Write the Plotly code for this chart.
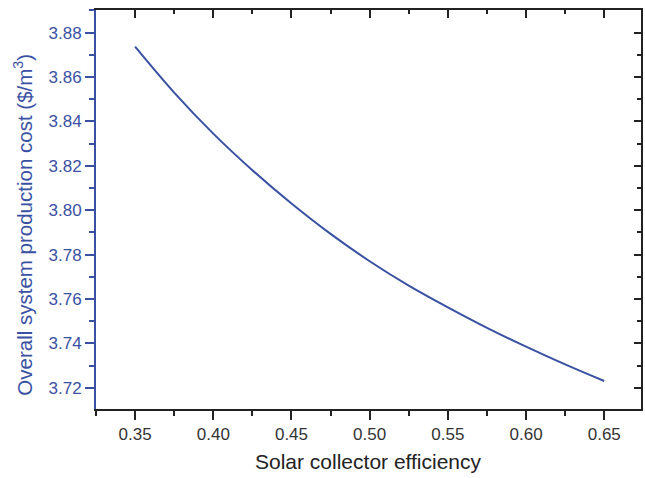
import plotly.graph_objects as go

efficiency = [0.35, 0.375, 0.40, 0.425, 0.45, 0.475, 0.50, 0.525, 0.55, 0.575, 0.60, 0.625, 0.65]
cost = [3.8737, 3.8530, 3.8345, 3.8180, 3.8030, 3.7893, 3.7770, 3.7660, 3.7562, 3.7470, 3.7385, 3.7305, 3.7230]

x_title = "Solar collector efficiency"
y_title = "Overall system production cost ($/m<sup>3</sup>)"

BLUE = "#3A51A3"
DARK = "#222222"
FONT = "Liberation Sans, Arial, sans-serif"
xr = [0.325, 0.6735]
yr = [3.7104, 3.8902]

fig = go.Figure()
fig.add_trace(go.Scatter(x=efficiency, y=cost, mode="lines", line=dict(color=BLUE, width=2, shape="spline"),
                         showlegend=False))
fig.add_trace(go.Scatter(x=efficiency, y=cost, mode="lines", line=dict(width=0), opacity=0,
                         xaxis="x2", yaxis="y2", showlegend=False, hoverinfo="skip"))

fig.update_layout(
    width=645, height=478,
    margin=dict(l=96, r=4, t=10, b=69),
    paper_bgcolor="white", plot_bgcolor="white",
    font=dict(family=FONT, size=16),
    xaxis=dict(range=xr, dtick=0.05, tick0=0.35, tickformat=".2f", showgrid=False, zeroline=False,
               automargin=False,
               showline=True, linecolor=DARK, linewidth=2,
               ticks="outside", ticklen=9, tickwidth=2, tickcolor=DARK,
               tickfont=dict(size=17, color="#333333"),
               minor=dict(dtick=0.025, ticks="outside", ticklen=5, tickwidth=1.5, tickcolor=DARK)),
    yaxis=dict(range=yr, dtick=0.02, tick0=3.72, tickformat=".2f", showgrid=False, zeroline=False,
               automargin=False,
               showline=True, linecolor=BLUE, linewidth=2,
               ticks="outside", ticklen=9, tickwidth=2, tickcolor=BLUE,
               tickfont=dict(size=17, color=BLUE),
               minor=dict(dtick=0.01, ticks="outside", ticklen=5, tickwidth=1.5, tickcolor=BLUE)),
    xaxis2=dict(overlaying="x", side="top", range=xr, dtick=0.05, tick0=0.35, showgrid=False, zeroline=False,
                automargin=False, showline=True, linecolor=DARK, linewidth=2, showticklabels=False,
                ticks="inside", ticklen=8, tickwidth=2, tickcolor=DARK,
                minor=dict(dtick=0.025, ticks="inside", ticklen=4, tickwidth=1.5, tickcolor=DARK)),
    yaxis2=dict(overlaying="y", side="right", range=yr, dtick=0.02, tick0=3.72, showgrid=False, zeroline=False,
                automargin=False, showline=True, linecolor=DARK, linewidth=2, showticklabels=False,
                ticks="inside", ticklen=7, tickwidth=2, tickcolor=DARK,
                minor=dict(dtick=0.01, ticks="inside", ticklen=4, tickwidth=1.5, tickcolor=DARK)),
)

fig.add_annotation(text=x_title, xref="paper", yref="paper", x=0.5, y=0, xanchor="center", yanchor="middle",
                   yshift=-52, showarrow=False, font=dict(size=21, color=DARK))
fig.add_annotation(text=y_title, xref="paper", yref="paper", x=0, y=0.462, xanchor="center", yanchor="middle",
                   xshift=-73, textangle=-90, showarrow=False, font=dict(size=20.5, color=BLUE))

fig.write_html("out.html", config={"displayModeBar": False},
               post_script="document.body.style.margin='0';document.body.style.overflow='hidden';")
